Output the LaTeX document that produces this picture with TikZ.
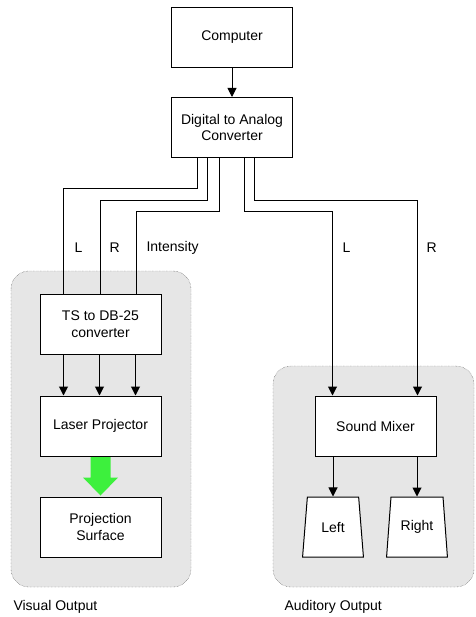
\documentclass[tikz,border=0pt]{standalone}
\usepackage{fontspec}
\setmainfont{Liberation Sans}
\usepackage{tikz}
\usetikzlibrary{shapes.geometric, arrows.meta, calc}
\definecolor{groupgray}{HTML}{E6E6E6}
\definecolor{beamgreen}{HTML}{3DF03D}
\tikzstyle{box} = [draw, fill=white, line width=1pt, minimum width=121pt, minimum height=60pt, inner sep=0pt, align=center]
\tikzstyle{speaker} = [draw, fill=white, line width=1pt, trapezium, trapezium left angle=78, trapezium right angle=78, trapezium stretches=true, minimum width=61pt, minimum height=60pt, inner sep=0pt]
\tikzstyle{group} = [draw=gray!50!black, densely dotted, fill=groupgray, rounded corners=18pt]
\tikzstyle{wire} = [line width=1pt]
\tikzstyle{arrow} = [line width=1pt,-{Triangle[length=9pt,width=9pt]}]

\begin{document}
\begin{tikzpicture}[x=1pt,y=-1pt]
	\begin{scope}[font=\fontsize{14}{16.5}\selectfont]
		\useasboundingbox (0,0) rectangle (475,617);
		
		% Output groups:
		% grey rounded areas behind the boxes
		\draw[group] (11,271) rectangle (191,587);
		\draw[group] (273,366) rectangle (474,587);
		\node[anchor=west] (visual) at (10,607) {Visual Output};
		\node[anchor=west] (auditory) at (281,607) {Auditory Output};
		
		% Boxes:
		\node[box] (computer) at (232,37.5) {Computer};
		\node[box] (dac) at (232,127.5) {Digital to Analog\\Converter};
		\node[box] (ts) at (100.5,324) {TS to DB-25\\converter};
		\node[box] (laser) at (100.5,426) {Laser Projector};
		\node[box] (surface) at (100.5,527) {Projection\\Surface};
		\node[box] (mixer) at (375.5,426) {Sound Mixer};
		\node[speaker] (left) at (333,527) {Left};
		\node[speaker] (right) at (417,527) {Right};
		
		\draw[arrow] (computer) -- (dac);
		
		% Wires out of the converter:
		\coordinate (d1) at ($(dac.south)+(-35,0)$);
		\coordinate (d2) at ($(dac.south)+(-25,0)$);
		\coordinate (d3) at ($(dac.south)+(-13,0)$);
		\coordinate (d4) at ($(dac.south)+(12,0)$);
		\coordinate (d5) at ($(dac.south)+(22,0)$);
		
		\draw[wire] (d1) -- ++(0,31) -| ($(ts.north west)+(24,0)$);
		\draw[wire] (d2) -- ++(0,43) -| (ts.north);
		\draw[wire] (d3) -- ++(0,54) -| ($(ts.north east)+(-25,0)$);
		\draw[arrow] (d4) -- ++(0,54) -| ($(mixer.north west)+(18,0)$);
		\draw[arrow] (d5) -- ++(0,43) -| ($(mixer.north east)+(-19,0)$);
		
		\node[anchor=west] (lblL) at (71,248) {L};
		\node[anchor=west] (lblR) at (106,248) {R};
		\node[anchor=west] (lblI) at (143,248) {Intensity};
		\node[anchor=west] (lblL2) at (339,248) {L};
		\node[anchor=west] (lblR2) at (423,248) {R};
		
		% Visual chain:
		\foreach \dx in {24,60,96}
		{
			\draw[arrow] ($(ts.south west)+(\dx,0)$) -- ($(laser.north west)+(\dx,0)$);
		}
		\fill[beamgreen] ($(laser.south)+(-10,0.5)$) -- ($(laser.south)+(-10,21)$) -- ($(laser.south)+(-17.5,21)$) -- ($(surface.north)+(0,-1)$) -- ($(laser.south)+(17.5,21)$) -- ($(laser.south)+(10,21)$) -- ($(laser.south)+(10,0.5)$) -- cycle;
		
		% Auditory chain:
		\draw[arrow] (mixer.south -| left.north) -- (left.north);
		\draw[arrow] (mixer.south -| right.north) -- (right.north);
		
	\end{scope}
\end{tikzpicture}
\end{document}
